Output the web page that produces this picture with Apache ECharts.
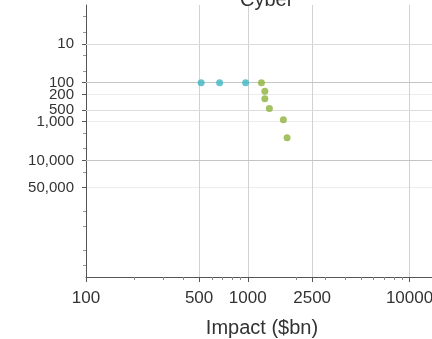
<!DOCTYPE html>
<html>
<head>
<meta charset="utf-8">
<script src="https://cdn.jsdelivr.net/npm/echarts@6/dist/echarts.min.js"></script>
<style>
  html, body { margin: 0; padding: 0; background: #fff; }
  #chart { width: 432px; height: 339px; }
</style>
</head>
<body>
<div id="chart"></div>
<script>
// impact ($bn) vs return period (years), both on log scales
const teal_x = [515, 670, 970]
const teal_y = [100, 100, 100]
const green_x = [1215, 1275, 1275, 1360, 1660, 1750]
const green_y = [100, 165, 260, 460, 900, 2600]

const x_ticks = [100, 500, 1000, 2500, 10000]
const x_minor = [200, 300, 400, 600, 700, 800, 900, 2000, 3000, 4000, 5000, 6000, 7000, 8000, 9000]
const y_ticks = [10, 100, 200, 500, 1000, 10000, 50000]
const y_strong = [100, 10000]
const y_medium = [10, 500]
const y_minor = [2, 5, 20, 50, 2000, 5000, 20000, 200000, 500000, 2000000, 5000000]

const font = 'Liberation Sans, Arial, sans-serif'
const el = document.getElementById('chart')
const chart = echarts.init(el, null, { renderer: 'canvas' })

// second axes only carry minor ticks, shifted onto the main axis lines
const gridW = 438 - 86
const gridH = 277 - 5

const zip = (xs, ys) => xs.map((x, i) => [x, ys[i]])
const fmt = v => Number(v).toLocaleString('en-US')

const option = {
  animation: false,
  title: {
    text: 'Cyber',
    left: 235,
    top: -15,
    textStyle: { fontFamily: font, fontSize: 20, fontWeight: 'normal', color: '#333' },
  },
  grid: { left: 86, top: 5, right: 432 - 438, bottom: 339 - 277, containLabel: false, outerBoundsMode: 'none' },
  xAxis: [
    {
      type: 'log', logBase: 10, min: 100, max: 15000,
      axisLine: { lineStyle: { color: '#555', width: 1 } },
      axisTick: { customValues: x_ticks, length: 5, lineStyle: { color: '#555' } },
      axisLabel: { customValues: x_ticks, fontFamily: font, fontSize: 17, color: '#333', margin: 13, formatter: v => String(v) },
      splitLine: { show: true, lineStyle: { color: '#d2d2d2', width: 1 } },
      name: 'Impact ($bn)', nameLocation: 'middle', nameGap: 41,
      nameTextStyle: { fontFamily: font, fontSize: 20, color: '#333' },
    },
    {
      type: 'log', logBase: 10, min: 100, max: 15000, position: 'top', offset: -gridH,
      axisLine: { show: false },
      axisTick: { inside: true, customValues: x_minor, length: 3, lineStyle: { color: '#888' } },
      axisLabel: { show: false },
      splitLine: { show: false },
    },
  ],
  yAxis: [
    {
      type: 'log', logBase: 10, min: 1, max: 1e7, inverse: true,
      axisLine: { show: true, lineStyle: { color: '#555', width: 1 } },
      axisTick: { show: true, customValues: y_ticks, length: 4, lineStyle: { color: '#555' } },
      axisLabel: { customValues: y_ticks, fontFamily: font, fontSize: 15, color: '#333', margin: 12, formatter: fmt },
      splitLine: { show: true, lineStyle: { color: '#ececec', width: 1 } },
    },
    {
      type: 'log', logBase: 10, min: 1, max: 1e7, inverse: true, position: 'right', offset: -gridW,
      axisLine: { show: false },
      axisTick: { show: true, inside: true, customValues: y_minor, length: 3, lineStyle: { color: '#999' } },
      axisLabel: { show: false },
      splitLine: { show: false },
    },
  ],
  series: [
    {
      name: 'teal', type: 'scatter', symbolSize: 7,
      itemStyle: { color: '#3fb6c3' },
      data: zip(teal_x, teal_y),
      markLine: {
        silent: true, symbol: 'none', label: { show: false },
        lineStyle: { color: '#c4c4c4', type: 'solid', width: 1 },
        data: y_strong.map(v => ({ yAxis: v })),
      },
      z: 5,
    },
    {
      name: 'green', type: 'scatter', symbolSize: 7,
      itemStyle: { color: '#8db33b' },
      data: zip(green_x, green_y),
      markLine: {
        silent: true, symbol: 'none', label: { show: false },
        lineStyle: { color: '#dcdcdc', type: 'solid', width: 1 },
        data: y_medium.map(v => ({ yAxis: v })),
      },
      z: 5,
    },
  ],
}

chart.setOption(option, true)
window.addEventListener('resize', () => chart.resize())
</script>
</body>
</html>
